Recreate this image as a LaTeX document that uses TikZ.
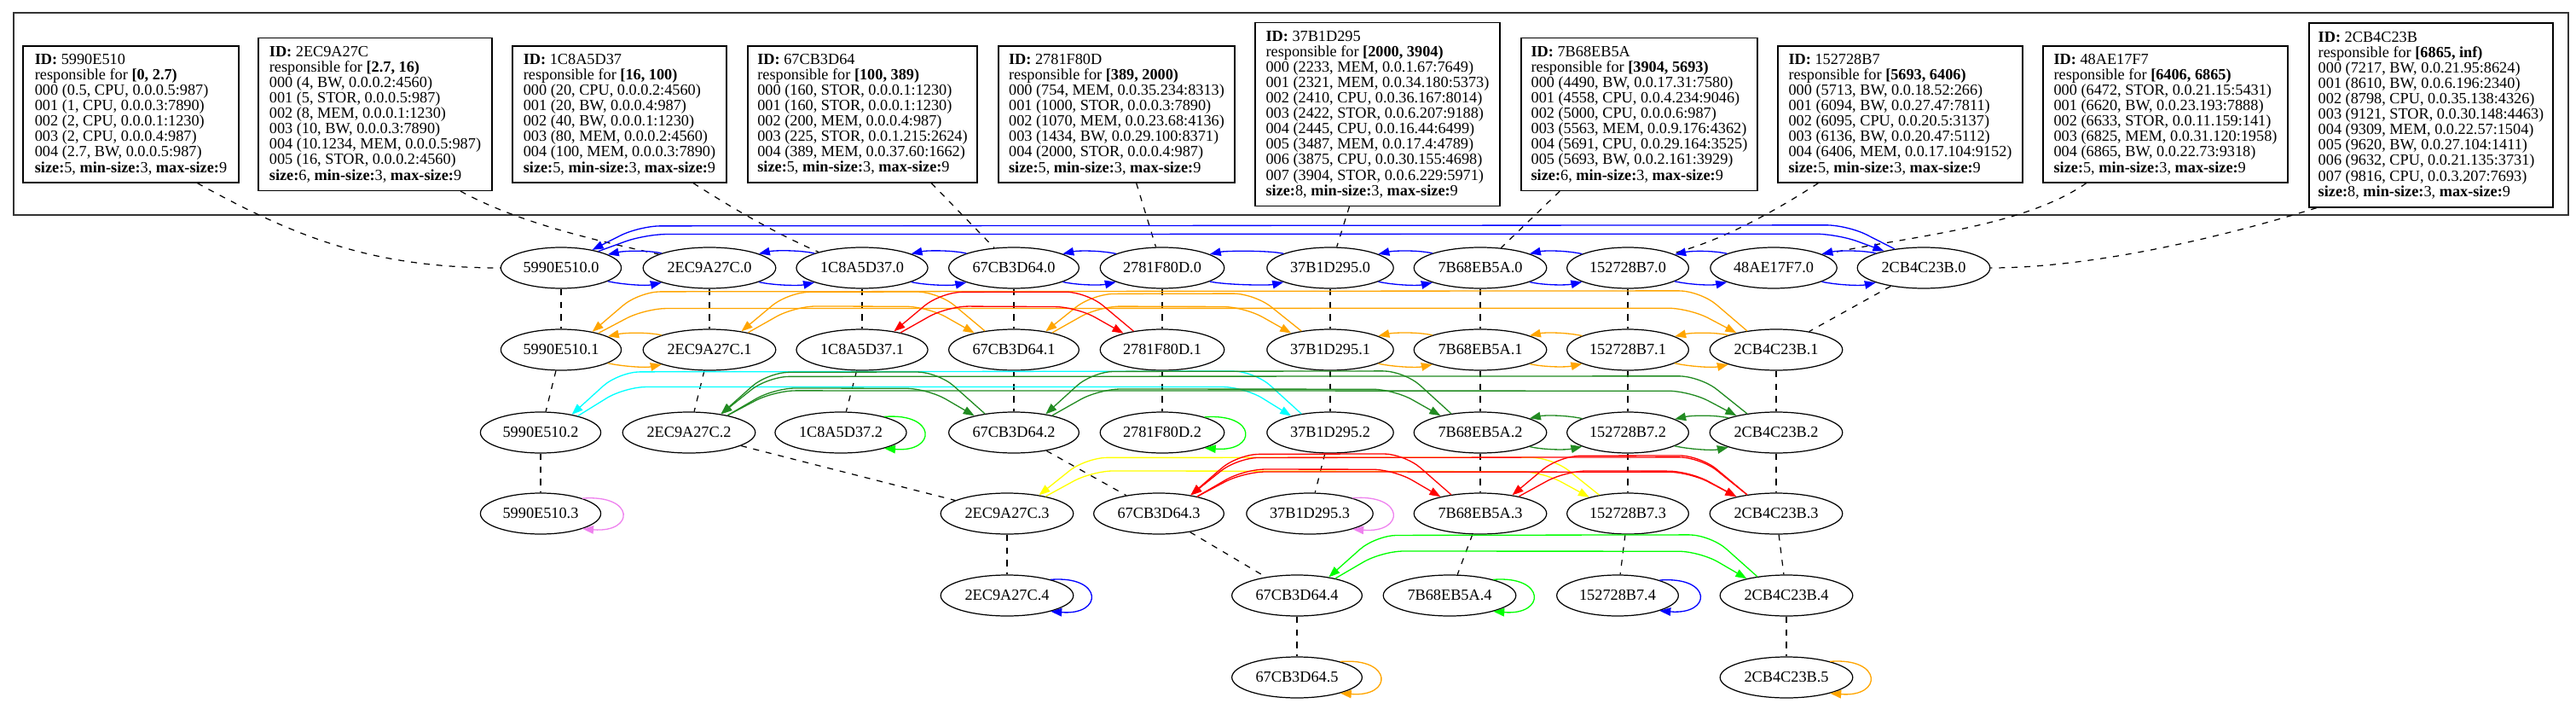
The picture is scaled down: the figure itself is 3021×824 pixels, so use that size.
\documentclass[tikz,border=0pt]{standalone}
\usepackage{fontspec}
\setmainfont{Liberation Serif}
\usetikzlibrary{calc,shapes.geometric,arrows.meta}

\definecolor{gvorange}{RGB}{255,165,0}
\definecolor{gvgreen}{RGB}{0,255,0}
\definecolor{gvforest}{RGB}{34,139,34}
\definecolor{gvcyan}{RGB}{0,255,255}
\definecolor{gvyellow}{RGB}{255,255,0}
\definecolor{gvviolet}{RGB}{238,130,238}

\tikzset{
  peer/.style={ellipse, draw, line width=0.7pt, inner xsep=0.11cm, inner ysep=0pt, minimum height=0.96cm, font=\fontsize{10.4}{10.4}\selectfont},
  infobox/.style={draw, line width=0.7pt, align=left, inner xsep=0.08cm, inner ysep=0pt, font=\fontsize{10.4}{10.3}\selectfont},
  frame/.style={draw=black!80, line width=1pt},
  tie/.style={line width=0.7pt, dash pattern=on 4pt off 4.5pt},
  link/.style={line width=0.75pt, -{Triangle[length=0.26cm, width=0.19cm]}},
}

% neighbours side by side: lower arrow goes right, upper arrow goes left
\newcommand{\nextpair}[3]{%
  \draw[link,#1] (#2.-16) .. controls +(18,4) and +(-18,4) .. (#3.197);
  \draw[link,#1] (#3.163) .. controls +(-18,-4) and +(18,-4) .. (#2.16);}
% neighbours further apart: outer arc goes left, inner arc goes right
\newcommand{\arcpair}[5]{%
  \draw[link,#1,rounded corners=0.5cm] (#3.147) -- ++(-55,-#4) -- ($(#2.30)+(55,-#4)$) -- (#2.30);
  \draw[link,#1,rounded corners=0.5cm] (#2.24) -- ++(55,-#5) -- ($(#3.157)+(-55,-#5)$) -- (#3.157);}
\newcommand{\selfloop}[2]{%
  \draw[link,#1] (#2.20) .. controls +(62,-5) and +(62,5) .. (#2.-20);}

\begin{document}
\begin{tikzpicture}[x=0.02cm, y=-0.02cm]
\useasboundingbox (0,0) rectangle (3021,824);

%%%%% TABLES %%%%%
\draw[frame] (16,15) rectangle (3012,252);

\node[infobox, minimum width=5.06cm, minimum height=3.2cm] (boxa) at (153.5,134) {\textbf{ID:} 5990E510\\ responsible for \textbf{[0, 2.7)}\\ 000 (0.5, CPU, 0.0.0.5:987)\\ 001 (1, CPU, 0.0.0.3:7890)\\ 002 (2, CPU, 0.0.0.1:1230)\\ 003 (2, CPU, 0.0.0.4:987)\\ 004 (2.7, BW, 0.0.0.5:987)\\ \textbf{size:}5, \textbf{min-size:}3, \textbf{max-size:}9};
\node[infobox, minimum width=5.48cm, minimum height=3.58cm] (boxb) at (440,134) {\textbf{ID:} 2EC9A27C\\ responsible for \textbf{[2.7, 16)}\\ 000 (4, BW, 0.0.0.2:4560)\\ 001 (5, STOR, 0.0.0.5:987)\\ 002 (8, MEM, 0.0.0.1:1230)\\ 003 (10, BW, 0.0.0.3:7890)\\ 004 (10.1234, MEM, 0.0.0.5:987)\\ 005 (16, STOR, 0.0.0.2:4560)\\ \textbf{size:}6, \textbf{min-size:}3, \textbf{max-size:}9};
\node[infobox, minimum width=5.02cm, minimum height=3.2cm] (boxc) at (726.5,134) {\textbf{ID:} 1C8A5D37\\ responsible for \textbf{[16, 100)}\\ 000 (20, CPU, 0.0.0.2:4560)\\ 001 (20, BW, 0.0.0.4:987)\\ 002 (40, BW, 0.0.0.1:1230)\\ 003 (80, MEM, 0.0.0.2:4560)\\ 004 (100, MEM, 0.0.0.3:7890)\\ \textbf{size:}5, \textbf{min-size:}3, \textbf{max-size:}9};
\node[infobox, minimum width=5.38cm, minimum height=3.2cm] (boxd) at (1011.5,134) {\textbf{ID:} 67CB3D64\\ responsible for \textbf{[100, 389)}\\ 000 (160, STOR, 0.0.0.1:1230)\\ 001 (160, STOR, 0.0.0.1:1230)\\ 002 (200, MEM, 0.0.0.4:987)\\ 003 (225, STOR, 0.0.1.215:2624)\\ 004 (389, MEM, 0.0.37.60:1662)\\ \textbf{size:}5, \textbf{min-size:}3, \textbf{max-size:}9};
\node[infobox, minimum width=5.54cm, minimum height=3.2cm] (boxe) at (1309.5,134) {\textbf{ID:} 2781F80D\\ responsible for \textbf{[389, 2000)}\\ 000 (754, MEM, 0.0.35.234:8313)\\ 001 (1000, STOR, 0.0.0.3:7890)\\ 002 (1070, MEM, 0.0.23.68:4136)\\ 003 (1434, BW, 0.0.29.100:8371)\\ 004 (2000, STOR, 0.0.0.4:987)\\ \textbf{size:}5, \textbf{min-size:}3, \textbf{max-size:}9};
\node[infobox, minimum width=5.74cm, minimum height=4.3cm] (boxf) at (1615.5,134) {\textbf{ID:} 37B1D295\\ responsible for \textbf{[2000, 3904)}\\ 000 (2233, MEM, 0.0.1.67:7649)\\ 001 (2321, MEM, 0.0.34.180:5373)\\ 002 (2410, CPU, 0.0.36.167:8014)\\ 003 (2422, STOR, 0.0.6.207:9188)\\ 004 (2445, CPU, 0.0.16.44:6499)\\ 005 (3487, MEM, 0.0.17.4:4789)\\ 006 (3875, CPU, 0.0.30.155:4698)\\ 007 (3904, STOR, 0.0.6.229:5971)\\ \textbf{size:}8, \textbf{min-size:}3, \textbf{max-size:}9};
\node[infobox, minimum width=5.54cm, minimum height=3.58cm] (boxg) at (1922.5,134) {\textbf{ID:} 7B68EB5A\\ responsible for \textbf{[3904, 5693)}\\ 000 (4490, BW, 0.0.17.31:7580)\\ 001 (4558, CPU, 0.0.4.234:9046)\\ 002 (5000, CPU, 0.0.0.6:987)\\ 003 (5563, MEM, 0.0.9.176:4362)\\ 004 (5691, CPU, 0.0.29.164:3525)\\ 005 (5693, BW, 0.0.2.161:3929)\\ \textbf{size:}6, \textbf{min-size:}3, \textbf{max-size:}9};
\node[infobox, minimum width=5.74cm, minimum height=3.2cm] (boxh) at (2228.5,134) {\textbf{ID:} 152728B7\\ responsible for \textbf{[5693, 6406)}\\ 000 (5713, BW, 0.0.18.52:266)\\ 001 (6094, BW, 0.0.27.47:7811)\\ 002 (6095, CPU, 0.0.20.5:3137)\\ 003 (6136, BW, 0.0.20.47:5112)\\ 004 (6406, MEM, 0.0.17.104:9152)\\ \textbf{size:}5, \textbf{min-size:}3, \textbf{max-size:}9};
\node[infobox, minimum width=5.74cm, minimum height=3.2cm] (boxi) at (2539.5,134) {\textbf{ID:} 48AE17F7\\ responsible for \textbf{[6406, 6865)}\\ 000 (6472, STOR, 0.0.21.15:5431)\\ 001 (6620, BW, 0.0.23.193:7888)\\ 002 (6633, STOR, 0.0.11.159:141)\\ 003 (6825, MEM, 0.0.31.120:1958)\\ 004 (6865, BW, 0.0.22.73:9318)\\ \textbf{size:}5, \textbf{min-size:}3, \textbf{max-size:}9};
\node[infobox, minimum width=5.72cm, minimum height=4.32cm] (boxj) at (2851,135) {\textbf{ID:} 2CB4C23B\\ responsible for \textbf{[6865, inf)}\\ 000 (7217, BW, 0.0.21.95:8624)\\ 001 (8610, BW, 0.0.6.196:2340)\\ 002 (8798, CPU, 0.0.35.138:4326)\\ 003 (9121, STOR, 0.0.30.148:4463)\\ 004 (9309, MEM, 0.0.22.57:1504)\\ 005 (9620, BW, 0.0.27.104:1411)\\ 006 (9632, CPU, 0.0.21.135:3731)\\ 007 (9816, CPU, 0.0.3.207:7693)\\ \textbf{size:}8, \textbf{min-size:}3, \textbf{max-size:}9};

%%%%% LEVEL NODES %%%%%
\node[peer] (a0) at (658,314) {5990E510.0};
\node[peer] (b0) at (832,314) {2EC9A27C.0};
\node[peer] (c0) at (1011,314) {1C8A5D37.0};
\node[peer] (d0) at (1189,314) {67CB3D64.0};
\node[peer] (e0) at (1363,314) {2781F80D.0};
\node[peer] (f0) at (1560,314) {37B1D295.0};
\node[peer] (g0) at (1736,314) {7B68EB5A.0};
\node[peer] (h0) at (1909,314) {152728B7.0};
\node[peer] (i0) at (2080,314) {48AE17F7.0};
\node[peer] (j0) at (2256,314) {2CB4C23B.0};

\node[peer] (a1) at (658,410) {5990E510.1};
\node[peer] (b1) at (832,410) {2EC9A27C.1};
\node[peer] (c1) at (1011,410) {1C8A5D37.1};
\node[peer] (d1) at (1189,410) {67CB3D64.1};
\node[peer] (e1) at (1363,410) {2781F80D.1};
\node[peer] (f1) at (1560,410) {37B1D295.1};
\node[peer] (g1) at (1736,410) {7B68EB5A.1};
\node[peer] (h1) at (1909,410) {152728B7.1};
\node[peer] (j1) at (2083,410) {2CB4C23B.1};

\node[peer] (a2) at (634,507) {5990E510.2};
\node[peer] (b2) at (808,507) {2EC9A27C.2};
\node[peer] (c2) at (986,507) {1C8A5D37.2};
\node[peer] (d2) at (1189,507) {67CB3D64.2};
\node[peer] (e2) at (1363,507) {2781F80D.2};
\node[peer] (f2) at (1560,507) {37B1D295.2};
\node[peer] (g2) at (1736,507) {7B68EB5A.2};
\node[peer] (h2) at (1909,507) {152728B7.2};
\node[peer] (j2) at (2083,507) {2CB4C23B.2};

\node[peer] (a3) at (634,602) {5990E510.3};
\node[peer] (b3) at (1181,602) {2EC9A27C.3};
\node[peer] (d3) at (1359,602) {67CB3D64.3};
\node[peer] (f3) at (1536,602) {37B1D295.3};
\node[peer] (g3) at (1736,602) {7B68EB5A.3};
\node[peer] (h3) at (1909,602) {152728B7.3};
\node[peer] (j3) at (2083,602) {2CB4C23B.3};

\node[peer] (b4) at (1181,698) {2EC9A27C.4};
\node[peer] (d4) at (1521,698) {67CB3D64.4};
\node[peer] (g4) at (1700,698) {7B68EB5A.4};
\node[peer] (h4) at (1897,698) {152728B7.4};
\node[peer] (j4) at (2095,698) {2CB4C23B.4};

\node[peer] (d5) at (1521,794) {67CB3D64.5};
\node[peer] (j5) at (2095,794) {2CB4C23B.5};

%%%%% DASHED TIES %%%%%
\draw[tie] (boxa.-46) .. controls (350,280) and (440,314) .. (a0.west);
\draw[tie] (boxb.-42) .. controls (610,262) and (700,282) .. (b0.165);
\draw[tie] (boxc.-43) .. controls (865,248) and (915,276) .. (c0.160);
\draw[tie] (boxd.-45.5) -- (d0);
\draw[tie] (boxe.-74) -- (e0);
\draw[tie] (boxf.-107) -- (f0);
\draw[tie] (boxg.-136) -- (g0);
\draw[tie] (boxh.-140) .. controls (2070,255) and (2010,285) .. (h0.18);
\draw[tie] (boxi.-139.5) .. controls (2370,268) and (2230,278) .. (i0.15);
\draw[tie] (boxj.-141) .. controls (2600,280) and (2450,314) .. (j0.east);

\foreach \u/\v in {a0/a1,a1/a2,a2/a3,b0/b1,b1/b2,b2/b3,b3/b4,c0/c1,c1/c2,
    d0/d1,d1/d2,d2/d3,d3/d4,d4/d5,e0/e1,e1/e2,f0/f1,f1/f2,f2/f3,
    g0/g1,g1/g2,g2/g3,g3/g4,h0/h1,h1/h2,h2/h3,h3/h4,j0/j1,j1/j2,j2/j3,j3/j4,j4/j5}
  \draw[tie] (\u) -- (\v);

%%%%% RINGS %%%%%
\foreach \u/\v in {a0/b0,b0/c0,c0/d0,d0/e0,e0/f0,f0/g0,g0/h0,h0/i0,i0/j0} {\nextpair{blue}{\u}{\v}}
\arcpair{blue}{a0}{j0}{28}{20}

\foreach \u/\v in {a1/b1,f1/g1,g1/h1,h1/j1} {\nextpair{gvorange}{\u}{\v}}
\arcpair{gvorange}{b1}{d1}{46}{31}
\arcpair{gvorange}{d1}{f1}{44}{31}
\arcpair{gvorange}{a1}{j1}{47}{29}
\arcpair{red}{c1}{e1}{46}{31}

\arcpair{gvcyan}{a2}{f2}{50}{34}
\foreach \u/\v in {g2/h2,h2/j2} {\nextpair{gvforest}{\u}{\v}}
\arcpair{gvforest}{b2}{d2}{49}{32}
\arcpair{gvforest}{d2}{g2}{50}{31}
\arcpair{gvforest}{b2}{j2}{44}{29}

\arcpair{gvyellow}{b3}{h3}{44}{30}
\arcpair{red}{d3}{g3}{48}{32}
\arcpair{red}{g3}{j3}{46}{30}
\arcpair{red}{d3}{j3}{44}{29}

\arcpair{gvgreen}{d4}{j4}{49}{32}

\selfloop{gvgreen}{c2}
\selfloop{gvgreen}{e2}
\selfloop{gvviolet}{a3}
\selfloop{gvviolet}{f3}
\selfloop{blue}{b4}
\selfloop{gvgreen}{g4}
\selfloop{blue}{h4}
\selfloop{gvorange}{d5}
\selfloop{gvorange}{j5}

\end{tikzpicture}
\end{document}
